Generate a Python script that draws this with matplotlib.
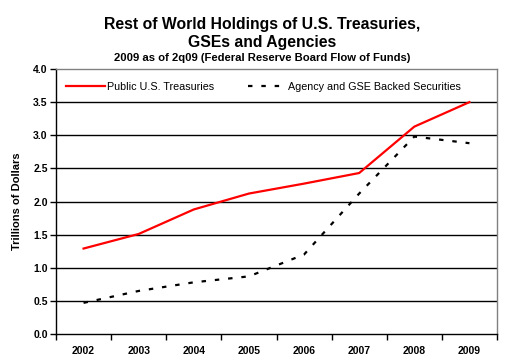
import matplotlib
matplotlib.use("Agg")
import matplotlib.pyplot as plt

years = ["2002", "2003", "2004", "2005", "2006", "2007", "2008", "2009"]
treasuries = [1.29, 1.51, 1.88, 2.12, 2.27, 2.43, 3.13, 3.50]
agency = [0.47, 0.65, 0.78, 0.87, 1.20, 2.12, 2.98, 2.88]
yticks = [0.0, 0.5, 1.0, 1.5, 2.0, 2.5, 3.0, 3.5, 4.0]

plt.rcParams['font.family'] = ['Liberation Sans', 'DejaVu Sans']

fig = plt.figure(figsize=(5.13, 3.62), dpi=100)
ax = fig.add_axes([56/513, 1-334/362, (497-56)/513, (334-69)/362])

x = list(range(len(years)))
ax.plot(x, treasuries, color='#ff0000', lw=1.6, label='Public U.S. Treasuries')
ax.plot(x, agency, color='black', lw=1.6, linestyle=(0, (2, 4)),
        label='Agency and GSE Backed Securities')

ax.set_xlim(-0.5, len(years) - 0.5)
ax.set_ylim(0, 4.0)
ax.set_yticks(yticks)
ax.set_yticklabels([f"{v:.1f}" for v in yticks], fontsize=7.5, fontweight='bold')
ax.set_xticks(x)
ax.set_xticklabels(years, fontsize=7.5, fontweight='bold')
ax.set_xticks([i - 0.5 for i in range(len(years) + 1)], minor=True)
ax.tick_params(axis='x', which='major', length=0, pad=9)
ax.tick_params(axis='x', which='minor', length=4, width=1, direction='out')
ax.tick_params(axis='y', length=4, width=1, direction='out', pad=2)

for v in yticks[1:-1]:
    ax.axhline(v, color='black', lw=1.0, zorder=0)

for s in ['top', 'right']:
    ax.spines[s].set_color('#808080')
    ax.spines[s].set_linewidth(1.0)
for s in ['left', 'bottom']:
    ax.spines[s].set_color('black')
    ax.spines[s].set_linewidth(1.0)

ax.set_ylabel('Trillions of Dollars', fontsize=8, fontweight='bold', labelpad=8)

leg = ax.legend(loc='upper left', bbox_to_anchor=(0.006, 0.98), ncol=2,
                frameon=False, fontsize=7.75, handlelength=3.6,
                handletextpad=0.2, columnspacing=3.1, borderaxespad=0.3)

cx = 262 / 513
fig.text(cx, 1 - 25/362, 'Rest of World Holdings of U.S. Treasuries,',
         ha='center', va='center', fontsize=11.3, fontweight='bold')
fig.text(cx, 1 - 43/362, 'GSEs and Agencies',
         ha='center', va='center', fontsize=11.3, fontweight='bold')
fig.text(cx, 1 - 58/362, '2009 as of 2q09 (Federal Reserve Board Flow of Funds)',
         ha='center', va='center', fontsize=8.1, fontweight='bold')

fig.savefig('out.png', dpi=100)
